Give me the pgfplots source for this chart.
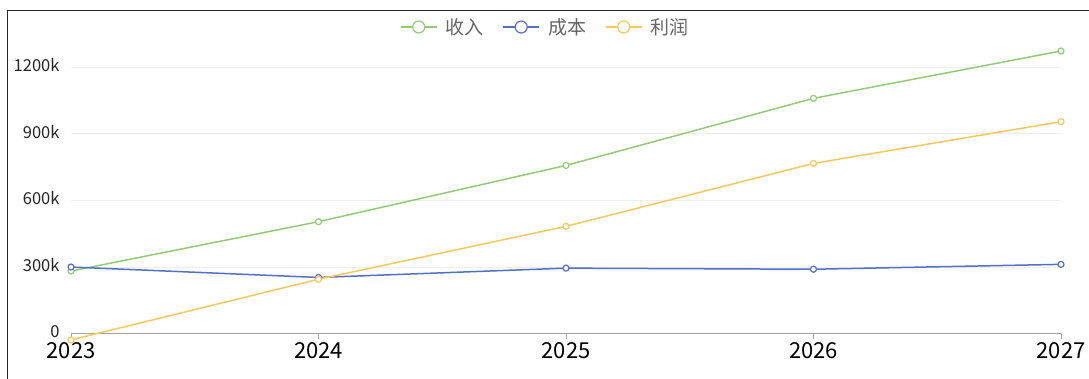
\documentclass[border=0pt]{standalone}
\usepackage{pgfplots}
\pgfplotsset{compat=1.18}
\usepackage{fontspec}
\setmainfont{Noto Sans CJK SC}
\definecolor{cGreen}{HTML}{91CC75}
\definecolor{cBlue}{HTML}{5470C6}
\definecolor{cYellow}{HTML}{FAC858}
\definecolor{cAxis}{HTML}{A0A0A0}
\definecolor{cGrid}{HTML}{EEEEEE}
\definecolor{cLegText}{HTML}{666666}
\begin{document}
\begin{tikzpicture}[x=1pt,y=1pt]
\useasboundingbox (0,0) rectangle (1089,379);
\fill[white] (0,0) rectangle (1089,379);
\draw[black!85, line width=1.6pt] (7.5,0) -- (7.5,368.5) -- (1089,368.5);
\begin{axis}[
  at={(71pt,45.3pt)}, anchor=south west,
  scale only axis, width=990pt, height=266.7pt,
  xmin=2023, xmax=2027, ymin=0, ymax=1200,
  clip=false,
  axis x line=bottom, axis y line=left,
  x axis line style={-, draw=cAxis, line width=1pt},
  y axis line style={draw=none},
  xtick={2023,2024,2025,2026,2027},
  xticklabels={2023,2024,2025,2026,2027},
  ytick={0,300,600,900,1200},
  yticklabels={0,300k,600k,900k,1200k},
  tick align=outside, major tick length=5pt,
  xtick style={draw=cAxis, line width=1pt},
  ytick style={draw=none},
  ymajorgrids, grid style={draw=cGrid, line width=0.8pt},
  xticklabel style={font=\fontsize{22}{22}\selectfont, text=black},
  yticklabel style={font=\fontsize{16.5}{16.5}\selectfont, text=black!85, xshift=-3pt, yshift=2pt},
  legend columns=3,
  legend style={at={(0.479,1.15)}, anchor=center, draw=none, fill=none,
    font=\fontsize{19}{19}\selectfont, text=cLegText,
    /tikz/every odd column/.append style={column sep=6pt},
    /tikz/every even column/.append style={column sep=16pt}},
  legend image post style={line width=2.5pt, mark size=6pt},
  legend image code/.code={
    \draw[#1, mark=none] (0pt,0pt) -- (36pt,0pt);
    \draw[#1] plot coordinates {(18pt,0pt)};
  },
]
\addplot[cGreen, line width=1.5pt, mark=*, mark size=3pt, mark options={fill=white, draw=cGreen, line width=1.2pt}]
  coordinates {(2023,282) (2024,504) (2025,757) (2026,1059) (2027,1272)};
\addlegendentry{收入}
\addplot[cBlue, line width=1.5pt, mark=*, mark size=3pt, mark options={fill=white, draw=cBlue, line width=1.2pt}]
  coordinates {(2023,300) (2024,253) (2025,295) (2026,290) (2027,312)};
\addlegendentry{成本}
\addplot[cYellow, line width=1.5pt, mark=*, mark size=3pt, mark options={fill=white, draw=cYellow, line width=1.2pt}]
  coordinates {(2023,-28) (2024,245) (2025,483) (2026,766) (2027,954)};
\addlegendentry{利润}
\end{axis}
\end{tikzpicture}
\end{document}
